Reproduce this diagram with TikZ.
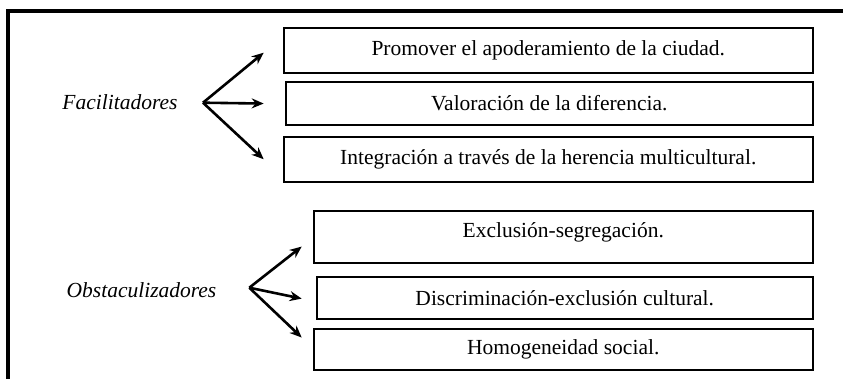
\documentclass[tikz,border=0pt]{standalone}
\usepackage{fontspec}
\setmainfont{Liberation Serif}
\usetikzlibrary{arrows.meta,calc}
\begin{document}
\begin{tikzpicture}[x=1pt,y=-1pt,
  frame/.style={line width=3.5pt},
  itembox/.style={draw,line width=1.8pt,anchor=north west,inner sep=0pt,
    font=\fontsize{21.5}{25}\selectfont},
  catlabel/.style={font=\fontsize{21.5}{25}\selectfont\itshape},
  fanarrow/.style={line width=2.6pt,-{Stealth[length=12pt,width=10pt]}}]
\useasboundingbox (0,0) rectangle (843,378);
\draw[frame] (8,380) -- (8,11) -- (845,11);
% top group
\node[itembox,minimum width=529.3pt,minimum height=45pt] (b1) at (282.7,27.3) {Promover el apoderamiento de la ciudad.};
\node[itembox,minimum width=527.3pt,minimum height=43.3pt] (b2) at (284.7,81) {Valoración de la diferencia.};
\node[itembox,minimum width=529.3pt,minimum height=45.3pt] (b3) at (282.7,135.7) {Integración a través de la herencia multicultural.};
% bottom group
\node[itembox,minimum width=499.3pt,minimum height=52.3pt,text depth=14pt] (b4) at (312.7,210) {Exclusión-segregación.};
\node[itembox,minimum width=496.3pt,minimum height=42.6pt] (b5) at (315.7,275.7) {Discriminación-exclusión cultural.};
\node[itembox,minimum width=499.3pt,minimum height=40.7pt] (b6) at (312.7,328.3) {Homogeneidad social.};
% labels
\node[catlabel] (fac) at (120,102) {Facilitadores};
\node[catlabel] (obs) at (141.5,290) {Obstaculizadores};
% fans
\coordinate (ff) at (203,102.7);
\coordinate (fo) at (249.3,287.7);
\draw[fanarrow] (ff) -- ($(b1.west)+(-19,2)$);
\draw[fanarrow] (ff) -- ($(b2.west)+(-21,0)$);
\draw[fanarrow] (ff) -- ($(b3.west)+(-19,0)$);
\draw[fanarrow] (fo) -- ($(b4.west)+(-11,9.5)$);
\draw[fanarrow] (fo) -- ($(b5.west)+(-14,0.7)$);
\draw[fanarrow] (fo) -- ($(b6.west)+(-11,-12)$);
\end{tikzpicture}
\end{document}
